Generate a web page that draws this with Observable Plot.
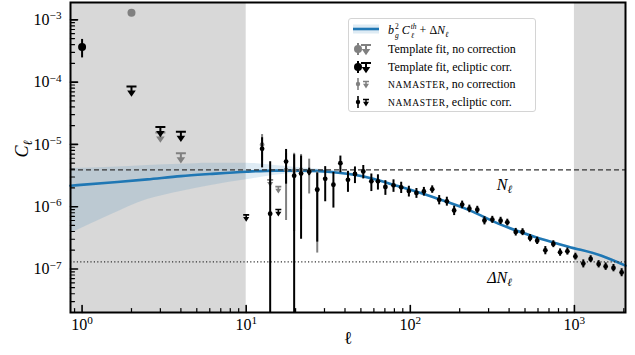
<!DOCTYPE html>
<html><head><meta charset="utf-8">
<script src="https://cdn.jsdelivr.net/npm/d3@7"></script>
<script src="https://cdn.jsdelivr.net/npm/@observablehq/plot@0.6"></script>
<style>
body{margin:0;background:#fff;}
#wrap{position:relative;width:635px;height:355px;font-family:"Liberation Serif","Times New Roman","DejaVu Serif",serif;color:#000;}
#wrap svg text{font-family:"Liberation Serif","Times New Roman","DejaVu Serif",serif;}
#legend{position:absolute;left:348px;top:18px;width:188px;height:94px;box-sizing:border-box;border:1px solid #d4d4d4;border-radius:3px;background:rgba(255,255,255,0.85);}
#legend svg{position:absolute;left:0;top:0;}
.row{position:absolute;left:39px;height:14px;line-height:14px;font-size:12px;white-space:nowrap;}
.sc{font-size:9.5px;letter-spacing:0.7px;}
.st{display:inline-flex;flex-direction:column;vertical-align:middle;margin-left:1px;}
.st span{display:block;font-size:7.5px;line-height:9px;height:9px;}
</style></head><body><div id="wrap"></div>
<script>
// ---------- axes ----------
const xDomain = [0.85, 2048];
const yDomain = [2e-8, 1.9e-3];
const xMajor = [1, 10, 100, 1000];
const yMajor = [1e-7, 1e-6, 1e-5, 1e-4, 1e-3];
const maskLo = [0.85, 1000];
const maskHi = [10, 2048];
const noiseN = 3.9e-6;
const noiseDN = 1.3e-7;

// ---------- theory b_g^2 C_l^th + dN_l ----------
const thL  = [0.85, 1.5, 2.5, 4, 6, 10, 15, 22, 33, 52, 85, 140, 226, 359, 570, 919, 1462, 2048];
const thC  = [2.17e-6, 2.45e-6, 2.75e-6, 3.1e-6, 3.35e-6, 3.65e-6, 3.8e-6, 3.8e-6, 3.6e-6, 3.05e-6, 2.12e-6, 1.4e-6, 8.9e-7, 5.1e-7, 3.3e-7, 2.28e-7, 1.63e-7, 1.13e-7];
const thLo = [3.7e-7, 7.4e-7, 1.3e-6, 1.76e-6, 2.17e-6, 2.7e-6, 3.2e-6, 3.45e-6, 3.35e-6, 2.9e-6, 2.02e-6, 1.34e-6, 8.5e-7, 4.9e-7, 3.17e-7, 2.2e-7, 1.57e-7, 1.09e-7];
const thHi = [4.1e-6, 4.3e-6, 4.6e-6, 4.8e-6, 5.0e-6, 5.0e-6, 4.6e-6, 4.2e-6, 3.85e-6, 3.2e-6, 2.22e-6, 1.46e-6, 9.3e-7, 5.3e-7, 3.43e-7, 2.36e-7, 1.69e-7, 1.17e-7];

// ---------- Template fit ----------
const tfNoL = [2], tfNoC = [1.3e-3], tfNoE = [0];
const tfNoUpL = [3, 4], tfNoUpC = [1.55e-5, 7.2e-6];
const tfEcL = [1], tfEcC = [3.65e-4], tfEcE = [1.2e-4];
const tfEcUpL = [2, 3, 4], tfEcUpC = [8.5e-5, 1.9e-5, 1.6e-5];

// ---------- NaMaster ----------
const nmNoL = [12.5, 17.5, 19.6, 21.6, 24.2, 27.1];
const nmNoC = [9.9e-6, 3.9e-6, 3.8e-6, 3.9e-6, 3.7e-6, 1.9e-6];
const nmNoE = [4.5e-6, 3.3e-6, 3.4e-6, 3.0e-6, 2.1e-6, 1.72e-6];
const nmNoUpL = [14.0, 15.7], nmNoUpC = [2.7e-6, 2.1e-6];
const nmEcL = [12.5, 14.0, 17.5, 19.6, 21.6, 24.2, 27.1, 30.3, 34, 37.5, 41.7, 46, 51.7, 57.9, 63.5, 70.5, 79, 88, 98, 109, 121, 136, 150, 167, 185, 207, 229, 256, 283, 316, 355, 390, 439, 483, 537, 593, 665, 744, 818, 906, 1014, 1133, 1256, 1405, 1550, 1730, 1940];
const nmEcC = [8.5e-6, 7.7e-7, 5.3e-6, 3.14e-6, 3.4e-6, 3.65e-6, 1.87e-6, 2.8e-6, 2.25e-6, 5.0e-6, 2.7e-6, 3.35e-6, 3.69e-6, 2.55e-6, 2.55e-6, 2.07e-6, 2.2e-6, 2.05e-6, 1.78e-6, 1.66e-6, 1.76e-6, 1.9e-6, 1.29e-6, 1.22e-6, 8.7e-7, 1.08e-6, 9.3e-7, 8.95e-7, 6.0e-7, 6.2e-7, 5.96e-7, 5.6e-7, 3.93e-7, 3.93e-7, 3.15e-7, 2.85e-7, 1.99e-7, 2.52e-7, 1.85e-7, 1.92e-7, 1.59e-7, 1.22e-7, 1.45e-7, 1.2e-7, 1.1e-7, 1.04e-7, 8.8e-8];
const nmEcE = [4.3e-6, 4.5e-6, 3.0e-6, 3.7e-6, 3.1e-6, 0.5e-6, 1.6e-6, 1.6e-6, 1.3e-6, 1.5e-6, 1.0e-6, 1.0e-6, 0.9e-6, 0.8e-6, 0.7e-6, 0.55e-6, 0.5e-6, 0.42e-6, 0.35e-6, 0.3e-6, 0.28e-6, 0.26e-6, 0.22e-6, 0.2e-6, 0.15e-6, 0.15e-6, 0.13e-6, 0.12e-6, 0.09e-6, 0.08e-6, 0.08e-6, 0.07e-6, 0.055e-6, 0.05e-6, 0.042e-6, 0.038e-6, 0.03e-6, 0.032e-6, 0.025e-6, 0.025e-6, 0.02e-6, 0.018e-6, 0.018e-6, 0.016e-6, 0.015e-6, 0.014e-6, 0.013e-6];
const nmEcUpL = [10, 15.7], nmEcUpC = [7.4e-7, 9e-7];

// ---------- build tables ----------
const theory = thL.map((l, i) => ({l, c: thC[i], lo: thLo[i], hi: thHi[i]}));
const pts = (L, C, E) => L.map((l, i) => ({l, c: C[i], lo: Math.max(C[i] - E[i], 1e-12), hi: C[i] + E[i]}));
const ups = (L, C) => L.map((l, i) => ({l, c: C[i]}));
const masks = maskLo.map((a, i) => ({a, b: maskHi[i]}));
const decades = (lo, hi) => { const out = []; for (let e = Math.floor(Math.log10(lo)); e <= Math.ceil(Math.log10(hi)); e++) for (let m = 2; m <= 9; m++) { const v = m * Math.pow(10, e); if (v >= lo && v <= hi) out.push(v); } return out; };
const xMinor = decades(xDomain[0], xDomain[1]);
const yMinor = decades(yDomain[0], yDomain[1]);

const GRAY = "#808080", BLUE = "#1f77b4";
const SERIF = "Liberation Serif, Times New Roman, DejaVu Serif, serif";
const bigT = {draw(c) { c.moveTo(-5, 0); c.lineTo(5, 0); c.moveTo(0, 0); c.lineTo(0, 5); c.moveTo(-2.4, 5); c.lineTo(2.4, 5); c.lineTo(0, 8.5); c.closePath(); }};
const smallT = {draw(c) { c.moveTo(-3, 0); c.lineTo(3, 0); c.moveTo(0, 0); c.lineTo(0, 3); c.moveTo(-1.6, 3); c.lineTo(1.6, 3); c.lineTo(0, 5.5); c.closePath(); }};
const tickShape = {draw(c, l) { c.moveTo(0, 0); c.lineTo(0, -l); }};
const sup = d => `10^${String(Math.round(Math.log10(d))).replace("-", "\u2212")}`;

function errMarks(data, color, r, sw) {
  return [
    Plot.ruleX(data, {x: "l", y1: "lo", y2: "hi", stroke: color, strokeWidth: sw, clip: true}),
    Plot.dot(data, {x: "l", y: "c", r, fill: color, stroke: "none"})
  ];
}
function upMarks(data, color, sym, sw) {
  return Plot.dot(data, {x: "l", y: "c", symbol: sym, fill: color, stroke: color, strokeWidth: sw});
}

const chart = Plot.plot({
  width: 635, height: 355,
  marginLeft: 70, marginRight: 10, marginTop: 2, marginBottom: 43,
  style: {fontFamily: SERIF, fontSize: "15px", background: "transparent", overflow: "visible"},
  x: {type: "log", domain: xDomain, axis: null},
  y: {type: "log", domain: yDomain, axis: null},
  marks: [
    Plot.rect(masks, {x1: "a", x2: "b", fill: "#d8d8d8"}),
    Plot.areaY(theory, {x: "l", y1: "lo", y2: "hi", fill: BLUE, fillOpacity: 0.15, curve: "monotone-x"}),
    Plot.line(theory, {x: "l", y: "c", stroke: BLUE, strokeWidth: 2.6, curve: "monotone-x"}),
    Plot.ruleY([noiseN], {stroke: "#333", strokeWidth: 1.2, strokeDasharray: "5,3"}),
    Plot.ruleY([noiseDN], {stroke: "#333", strokeWidth: 1.2, strokeDasharray: "1.2,2.2"}),
    Plot.text(["N_\u2113"], {x: 375, y: noiseN, dy: 15, fontSize: 16, fontStyle: "italic", fontFamily: SERIF}),
    Plot.text(["\u0394N_\u2113"], {x: 350, y: noiseDN, dy: 16, fontSize: 16, fontStyle: "italic", fontFamily: SERIF}),
    // Template fit
    ...errMarks(pts(tfNoL, tfNoC, tfNoE), GRAY, 4, 2),
    upMarks(ups(tfNoUpL, tfNoUpC), GRAY, bigT, 2),
    ...errMarks(pts(tfEcL, tfEcC, tfEcE), "black", 4, 2),
    upMarks(ups(tfEcUpL, tfEcUpC), "black", bigT, 2),
    // NaMaster
    ...errMarks(pts(nmNoL, nmNoC, nmNoE), GRAY, 2.4, 2),
    upMarks(ups(nmNoUpL, nmNoUpC), GRAY, smallT, 1.6),
    ...errMarks(pts(nmEcL, nmEcC, nmEcE), "black", 2.4, 2),
    upMarks(ups(nmEcUpL, nmEcUpC), "black", smallT, 1.6),
    // axes
    Plot.frame({stroke: "black", strokeWidth: 2}),
    Plot.vector(yMajor, {y: d => d, frameAnchor: "left", length: 7, rotate: 90, anchor: "start", shape: tickShape, stroke: "black", strokeWidth: 1.6}),
    Plot.vector(yMinor, {y: d => d, frameAnchor: "left", length: 4, rotate: 90, anchor: "start", shape: tickShape, stroke: "black", strokeWidth: 1.2}),
    Plot.vector(xMajor, {x: d => d, frameAnchor: "bottom", length: 7, rotate: 0, anchor: "start", shape: tickShape, stroke: "black", strokeWidth: 1.6}),
    Plot.vector(xMinor, {x: d => d, frameAnchor: "bottom", length: 4, rotate: 0, anchor: "start", shape: tickShape, stroke: "black", strokeWidth: 1.2}),
    Plot.axisY(yMajor, {tickSize: 0, tickPadding: 9, tickFormat: sup, fontSize: 16, fontFamily: SERIF, label: null}),
    Plot.axisX(xMajor, {tickSize: 0, tickPadding: 6, tickFormat: sup, fontSize: 16, fontFamily: SERIF, label: null}),
    Plot.text(["C_\u2113"], {frameAnchor: "left", dx: -48, rotate: -90, fontSize: 18, fontStyle: "italic", fontFamily: SERIF}),
    Plot.text(["\u2113"], {frameAnchor: "bottom", dy: 31, fontSize: 18, fontFamily: SERIF})
  ]
});

// rich text: base^sup or base_sub
chart.querySelectorAll("text").forEach(t => {
  if (t.querySelector("tspan")) return;
  const s = t.textContent;
  const m = s.match(/^([^_^]*)([_^])(.+)$/);
  if (!m) return;
  t.textContent = "";
  const ns = "http://www.w3.org/2000/svg";
  const a = document.createElementNS(ns, "tspan"); a.textContent = m[1]; t.appendChild(a);
  const b = document.createElementNS(ns, "tspan");
  b.textContent = m[3];
  b.setAttribute("font-size", "0.7em");
  b.setAttribute("dy", m[2] === "^" ? "-0.5em" : "0.3em");
  if (m[2] === "^") b.setAttribute("font-style", "normal");
  t.appendChild(b);
});

const wrap = document.getElementById("wrap");
wrap.appendChild(chart);

// legend
const legend = document.createElement("div");
legend.id = "legend";
legend.innerHTML = `
<svg width="40" height="94">
  <rect x="4" y="5.5" width="26" height="9" fill="${BLUE}" fill-opacity="0.15"/>
  <line x1="4" x2="30" y1="10" y2="10" stroke="${BLUE}" stroke-width="2.6"/>
  <line x1="9" x2="9" y1="24" y2="36" stroke="${GRAY}" stroke-width="2"/><circle cx="9" cy="30" r="4" fill="${GRAY}"/>
  <g transform="translate(17,26)" fill="${GRAY}" stroke="${GRAY}" stroke-width="2"><path d="M-5,0L5,0M0,0L0,5M-2.4,5L2.4,5L0,8.5Z"/></g>
  <line x1="9" x2="9" y1="42" y2="54" stroke="black" stroke-width="2"/><circle cx="9" cy="48" r="4" fill="black"/>
  <g transform="translate(17,44)" fill="black" stroke="black" stroke-width="2"><path d="M-5,0L5,0M0,0L0,5M-2.4,5L2.4,5L0,8.5Z"/></g>
  <line x1="9" x2="9" y1="59" y2="71" stroke="${GRAY}" stroke-width="1.6"/><circle cx="9" cy="65" r="2.2" fill="${GRAY}"/>
  <g transform="translate(17,62.5)" fill="${GRAY}" stroke="${GRAY}" stroke-width="1.5"><path d="M-3,0L3,0M0,0L0,3M-1.6,3L1.6,3L0,5.5Z"/></g>
  <line x1="9" x2="9" y1="77" y2="89" stroke="black" stroke-width="1.6"/><circle cx="9" cy="83" r="2.2" fill="black"/>
  <g transform="translate(17,80.5)" fill="black" stroke="black" stroke-width="1.5"><path d="M-3,0L3,0M0,0L0,3M-1.6,3L1.6,3L0,5.5Z"/></g>
</svg>
<div class="row" style="top:3px"><i>b</i><span class="st"><span>2</span><span><i>g</i></span></span> <i>C</i><span class="st"><span><i>th</i></span><span><i>ℓ</i></span></span> + Δ<i>N</i><sub style="font-size:8px"><i>ℓ</i></sub></div>
<div class="row" style="top:23px">Template fit, no correction</div>
<div class="row" style="top:41px">Template fit, ecliptic corr.</div>
<div class="row" style="top:58px"><span class="sc">NAMASTER</span>, no correction</div>
<div class="row" style="top:76px"><span class="sc">NAMASTER</span>, ecliptic corr.</div>`;
wrap.appendChild(legend);
</script>
</body></html>
